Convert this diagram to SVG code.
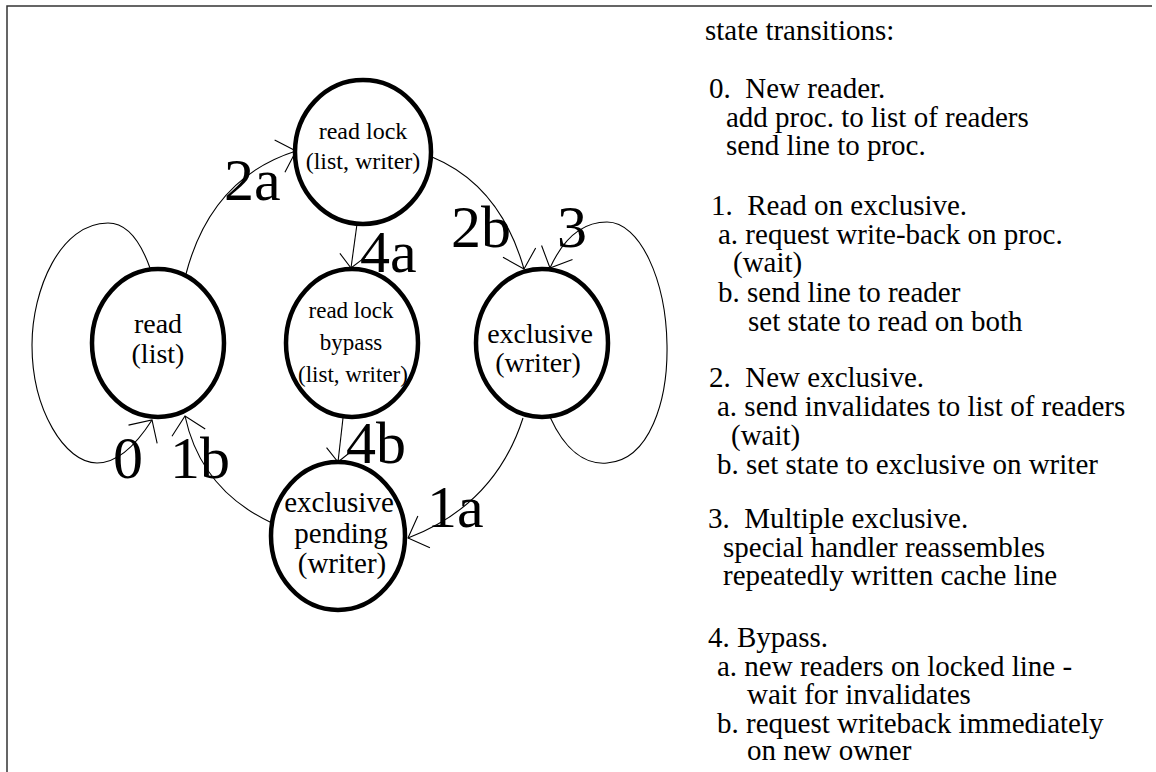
<svg xmlns="http://www.w3.org/2000/svg" width="1156" height="772" viewBox="0 0 1156 772">
  <style>
    .frame { fill: none; stroke: #333; stroke-width: 1.5; }
    .state { fill: #fff; stroke: #000; stroke-width: 4.5; }
    .edge { fill: none; stroke: #000; stroke-width: 1.1; }
    .nlabel { font-family: "Liberation Serif", "Times New Roman", serif; fill: #000; text-anchor: middle; }
    .elabel { font-family: "Liberation Serif", "Times New Roman", serif; font-size: 60px; fill: #000; }
    .notes { font-family: "Liberation Serif", "Times New Roman", serif; font-size: 29px; fill: #000; }
  </style>
  <defs>
    <marker id="vee" markerUnits="userSpaceOnUse" orient="auto" refX="0" refY="0" markerWidth="40" markerHeight="40" viewBox="-20 -20 40 40" overflow="visible">
      <path d="M -17,-17 L 0,0 L -17,17" fill="none" stroke="#000" stroke-width="1.1"/>
    </marker>
    <marker id="vee-short" markerUnits="userSpaceOnUse" orient="auto" refX="0" refY="0" markerWidth="40" markerHeight="40" viewBox="-20 -20 40 40" overflow="visible">
      <path d="M -13,-13 L 0,0 L -13,13" fill="none" stroke="#000" stroke-width="1.1"/>
    </marker>
  </defs>

  <!-- page frame (top and left rules) -->
  <path class="frame" d="M 7,772 V 6 H 1152"/>

  <!-- transitions -->
  <g id="connectors">
    <!-- 0: self loop on read -->
    <path class="edge" marker-end="url(#vee)" d="M 150,268 C 140,240 126,223 108,223 C 60,223 32,290 32,345 C 32,410 65,463 97,463 C 117,463 136,445 152,420"/>
    <!-- 2a: read -> read lock -->
    <path class="edge" marker-end="url(#vee)" d="M 186,274 Q 211,178 296,151"/>
    <!-- 2b: read lock -> exclusive -->
    <path class="edge" marker-end="url(#vee)" d="M 432,157 Q 500,185 524,269"/>
    <!-- 3: self loop on exclusive -->
    <path class="edge" marker-end="url(#vee)" d="M 550,417 C 565,450 585,465 607,463 C 650,460 668,400 667,345 C 666,280 640,222 607,222 C 585,222 565,235 550,268"/>
    <!-- 4a: read lock -> read lock bypass -->
    <path class="edge" marker-end="url(#vee-short)" d="M 357,224 L 351,268"/>
    <!-- 4b: read lock bypass -> exclusive pending -->
    <path class="edge" marker-end="url(#vee-short)" d="M 343,418 L 338,462"/>
    <!-- 1a: exclusive -> exclusive pending -->
    <path class="edge" marker-end="url(#vee)" d="M 523,418 Q 495,505 408,538"/>
    <!-- 1b: exclusive pending -> read -->
    <path class="edge" marker-end="url(#vee)" d="M 272,523 Q 201,490 185,416"/>
  </g>

  <!-- states -->
  <g id="state-read-lock">
    <ellipse class="state" cx="363" cy="152" rx="68" ry="72"/>
    <text class="nlabel" font-size="24" x="363" y="139">read lock</text>
    <text class="nlabel" font-size="24" x="363" y="169">(list, writer)</text>
  </g>
  <g id="state-read">
    <ellipse class="state" cx="158" cy="343" rx="66" ry="74"/>
    <text class="nlabel" font-size="28" x="158" y="333">read</text>
    <text class="nlabel" font-size="28" x="158" y="363">(list)</text>
  </g>
  <g id="state-read-lock-bypass">
    <ellipse class="state" cx="352" cy="343" rx="66" ry="74"/>
    <text class="nlabel" font-size="23" x="351" y="318">read lock</text>
    <text class="nlabel" font-size="23" x="351" y="350">bypass</text>
    <text class="nlabel" font-size="23" x="353" y="382">(list, writer)</text>
  </g>
  <g id="state-exclusive">
    <ellipse class="state" cx="542" cy="343" rx="66" ry="74"/>
    <text class="nlabel" font-size="28" x="540" y="343">exclusive</text>
    <text class="nlabel" font-size="28" x="538" y="372">(writer)</text>
  </g>
  <g id="state-exclusive-pending">
    <ellipse class="state" cx="338" cy="536" rx="67" ry="74"/>
    <text class="nlabel" font-size="29" x="339" y="512">exclusive</text>
    <text class="nlabel" font-size="29" x="341" y="543">pending</text>
    <text class="nlabel" font-size="29" x="342" y="573">(writer)</text>
  </g>

  <!-- transition numbers -->
  <g id="edge-labels">
    <text class="elabel" x="224" y="200">2a</text>
    <text class="elabel" x="451" y="247">2b</text>
    <text class="elabel" x="557" y="247">3</text>
    <text class="elabel" x="360" y="272">4a</text>
    <text class="elabel" x="346" y="463">4b</text>
    <text class="elabel" x="427" y="527">1a</text>
    <text class="elabel" x="113" y="478">0</text>
    <text class="elabel" x="170" y="478">1b</text>
  </g>

  <!-- legend -->
  <g id="legend" class="notes">
    <text x="705" y="40">state transitions:</text>
    <text x="709" y="98" xml:space="preserve">0.  New reader.</text>
    <text x="726" y="127">add proc. to list of readers</text>
    <text x="726" y="155">send line to proc.</text>
    <text x="711" y="215" xml:space="preserve">1.  Read on exclusive.</text>
    <text x="718" y="244">a. request write-back on proc.</text>
    <text x="733" y="272">(wait)</text>
    <text x="718" y="302">b. send line to reader</text>
    <text x="748" y="331">set state to read on both</text>
    <text x="709" y="387" xml:space="preserve">2.  New exclusive.</text>
    <text x="717" y="416">a. send invalidates to list of readers</text>
    <text x="731" y="445">(wait)</text>
    <text x="717" y="474">b. set state to exclusive on writer</text>
    <text x="708" y="528" xml:space="preserve">3.  Multiple exclusive.</text>
    <text x="723" y="557">special handler reassembles</text>
    <text x="723" y="585">repeatedly written cache line</text>
    <text x="708" y="647">4. Bypass.</text>
    <text x="717" y="676">a. new readers on locked line -</text>
    <text x="747" y="704">wait for invalidates</text>
    <text x="717" y="733">b. request writeback immediately</text>
    <text x="747" y="760">on new owner</text>
  </g>
</svg>
